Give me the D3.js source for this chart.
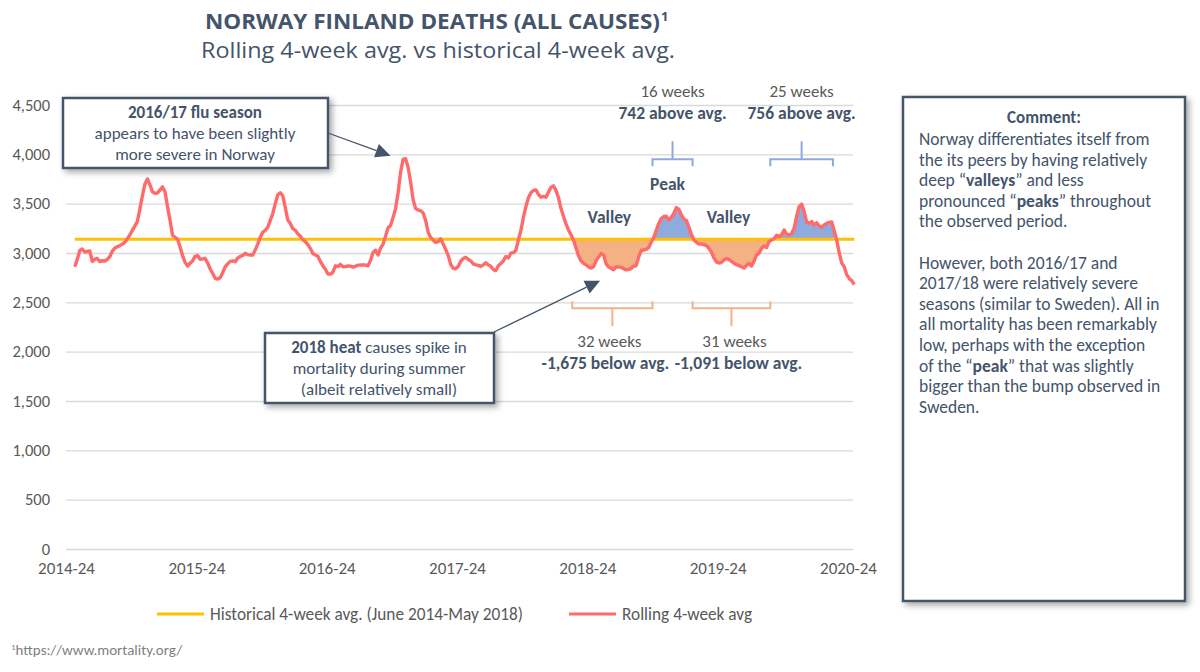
<!DOCTYPE html>
<html><head><meta charset="utf-8">
<script src="https://cdn.jsdelivr.net/npm/d3@7"></script>
<style>
body{margin:0;background:#fff;}
svg text{font-family:Carlito,Lato,"Open Sans",sans-serif;}
</style>
</head><body>
<svg id="chart" width="1200" height="672"></svg>
<script>
// ---------- DATA ----------
const yTickValues = [0, 500, 1000, 1500, 2000, 2500, 3000, 3500, 4000, 4500];
const xTickLabels = ["2014-24", "2015-24", "2016-24", "2017-24", "2018-24", "2019-24", "2020-24"];
const xTickWeeks = [0, 52, 104, 156, 208, 260, 312];
const totalWeeks = 314;      // weekly categories on the axis
const firstWeek = 3;         // first week with a rolling 4-week value
const rolling = [
 2861,2935,3025,3040,3010,3015,3020,2915,2935,2945,2912,2922,2919,2935,2965,3020,3050,3064,3075,3090,
 3110,3145,3185,3230,3275,3320,3450,3580,3700,3750,3690,3620,3605,3608,3640,3670,3621,3470,3334,3180,
 3159,3140,3064,2975,2905,2868,2896,2920,2965,2975,2935,2940,2946,2900,2840,2795,2743,2735,2750,2800,
 2860,2890,2915,2920,2912,2950,2965,2975,2997,2983,2980,2980,3030,3090,3160,3210,3230,3260,3330,3400,
 3500,3590,3611,3580,3460,3334,3300,3248,3230,3195,3170,3135,3115,3085,3045,2995,2980,2966,2915,2870,
 2835,2787,2787,2805,2870,2862,2885,2860,2862,2868,2867,2857,2865,2877,2878,2880,2878,2870,2925,3005,
 3028,2980,3050,3090,3170,3255,3278,3360,3450,3610,3820,3950,3955,3870,3720,3540,3450,3436,3428,3405,
 3330,3210,3157,3130,3108,3115,3145,3090,3035,2975,2885,2845,2840,2865,2915,2945,2958,2935,2920,2890,
 2880,2875,2864,2880,2900,2880,2865,2832,2822,2870,2894,2920,2965,2950,2998,3003,3028,3130,3230,3360,
 3470,3560,3610,3635,3640,3595,3566,3574,3566,3615,3665,3680,3635,3560,3450,3370,3295,3232,3185,3130,
 3050,2972,2920,2895,2880,2858,2847,2860,2920,2960,2995,2981,2890,2858,2846,2830,2860,2857,2855,2840,
 2829,2834,2842,2865,2873,2960,3025,3030,3038,3055,3110,3160,3230,3300,3350,3370,3372,3336,3360,3400,
 3460,3445,3385,3345,3330,3265,3190,3132,3110,3091,3091,3085,3075,3047,3010,2950,2910,2898,2905,2929,
 2942,2935,2915,2896,2882,2872,2862,2848,2875,2895,2868,2915,2980,2997,3047,3070,3055,3115,3132,3145,
 3180,3167,3185,3233,3192,3183,3195,3250,3370,3470,3495,3419,3315,3302,3318,3284,3307,3274,3260,3284,
 3300,3310,3315,3225,3130,3000,2900,2860,2780,2740,2720,2680
];
const historicalAvg = [3140];
const periodKinds  = ["valley", "peak", "valley", "peak"];
const periodLabels = ["Valley", "Peak", "Valley", ""];
const periodFrom   = [202, 234, 250, 281];
const periodTo     = [233, 249, 280, 305];
const periodWeeks  = ["32 weeks", "16 weeks", "31 weeks", "25 weeks"];
const periodAmount = ["-1,675 below avg.", "742 above avg.", "-1,091 below avg.", "756 above avg."];

// ---------- SETUP ----------
const svg = d3.select("#chart");
const slate = "#44546A", grey = "#595959";
const x = d3.scaleLinear().domain([0, totalWeeks]).range([66, 853]);
const y = d3.scaleLinear().domain([0, 4500]).range([549, 105]);
const xc = i => x(i + 0.5);
const avg = historicalAvg[0];
const series = rolling.map((v, k) => ({ i: k + firstWeek, v }));
const lastWeek = firstWeek + rolling.length - 1;

const defs = svg.append("defs");
const sh = defs.append("filter").attr("id", "shadow").attr("x", "-10%").attr("y", "-10%").attr("width", "130%").attr("height", "130%");
sh.append("feDropShadow").attr("dx", 3).attr("dy", 3).attr("stdDeviation", 3).attr("flood-color", "#000").attr("flood-opacity", 0.35);

// ---------- TITLE ----------
const t1 = svg.append("text").attr("x", 205).attr("y", 29)
  .attr("font-size", 21).attr("font-weight", "bold").attr("fill", slate)
  .style("font-family", "'Open Sans',Lato,sans-serif");
t1.append("tspan").attr("textLength", 455).attr("lengthAdjust", "spacingAndGlyphs")
  .text("NORWAY FINLAND DEATHS (ALL CAUSES)");
t1.append("tspan").attr("font-size", 13).attr("dx", 1).attr("dy", -8).text("1");
svg.append("text").attr("x", 201).attr("y", 58)
  .attr("font-size", 22.5).attr("fill", slate).attr("textLength", 474).attr("lengthAdjust", "spacingAndGlyphs")
  .style("font-family", "'Open Sans',Lato,sans-serif")
  .text("Rolling 4-week avg. vs historical 4-week avg.");

// ---------- GRID + AXES ----------
const yAxis = d3.axisLeft(y).tickValues(yTickValues).tickSize(-(x(totalWeeks) - x(0)))
  .tickFormat(d3.format(","));
const gy = svg.append("g").attr("transform", `translate(${x(0)},0)`).call(yAxis);
gy.select(".domain").remove();
gy.selectAll(".tick line").attr("stroke", "#D9D9D9").attr("stroke-width", 1.3);
gy.selectAll(".tick text").attr("x", -16).attr("fill", grey).attr("font-size", 16.5)
  .style("font-family", "Carlito,Lato,sans-serif");

const xAxis = d3.axisBottom(x).tickValues(xTickWeeks).tickSize(0)
  .tickFormat((d, k) => xTickLabels[k]);
const gx = svg.append("g").attr("transform", `translate(0,${y(0)})`).call(xAxis);
gx.select(".domain").remove();
gx.selectAll(".tick text").attr("dy", 22).attr("fill", grey).attr("font-size", 17)
  .style("font-family", "Carlito,Lato,sans-serif");

// ---------- SHADED PERIODS ----------
periodKinds.forEach((kind, k) => {
  const from = periodFrom[k], to = periodTo[k];
  const pts = series.filter(d => d.i >= from - 1 && d.i <= to + 1);
  const cid = "clip" + k;
  const r = defs.append("clipPath").attr("id", cid).append("rect")
    .attr("x", xc(from - 1)).attr("width", xc(to + 1) - xc(from - 1));
  if (kind === "valley") r.attr("y", y(avg)).attr("height", y(0) - y(avg));
  else r.attr("y", y(4500)).attr("height", y(avg) - y(4500));
  svg.append("path").datum(pts)
    .attr("clip-path", `url(#${cid})`)
    .attr("fill", kind === "valley" ? "#F4B183" : "#8FAADC")
    .attr("d", d3.area().x(d => xc(d.i)).y0(y(avg)).y1(d => y(d.v)));
});

// ---------- LINES ----------
svg.append("line").attr("x1", xc(firstWeek)).attr("x2", xc(lastWeek))
  .attr("y1", y(avg)).attr("y2", y(avg)).attr("stroke", "#FFC000").attr("stroke-width", 3);
svg.append("path").datum(series).attr("fill", "none").attr("stroke", "#FF6B6B")
  .attr("stroke-width", 3.4).attr("stroke-linejoin", "round")
  .attr("d", d3.line().x(d => xc(d.i)).y(d => y(d.v)));

// ---------- PERIOD LABELS + BRACKETS ----------
const amountDx = [-7, 0, 7, 0];
const weeksDx = [-3, 0, 3, 0];
periodKinds.forEach((kind, k) => {
  const from = periodFrom[k], to = periodTo[k];
  const x0 = x(from), x1 = x(to + 1), xm = (x0 + x1) / 2;
  const isPeak = kind === "peak";
  const col = isPeak ? "#8EA9DB" : "#F4B183";
  const by = isPeak ? y(3950) : y(2440);
  const s = isPeak ? 1 : -1;
  svg.append("path").attr("fill", "none").attr("stroke", col).attr("stroke-width", 2)
    .attr("d", `M${x0},${by + 7 * s}V${by}H${x1}V${by + 7 * s}M${xm},${by}V${by - 18 * s}`);
  const ty = isPeak ? 97 : 347;
  svg.append("text").attr("x", xm + weeksDx[k]).attr("y", ty).attr("text-anchor", "middle")
    .attr("font-size", 17).attr("fill", grey).text(periodWeeks[k]);
  svg.append("text").attr("x", xm + amountDx[k]).attr("y", ty + 22).attr("text-anchor", "middle")
    .attr("font-size", 17.5).attr("font-weight", "bold").attr("fill", slate).text(periodAmount[k]);
  if (periodLabels[k])
    svg.append("text").attr("x", xm - (isPeak ? 5 : 3)).attr("y", isPeak ? y(3640) : y(3300))
      .attr("text-anchor", "middle").attr("font-size", 17.5).attr("font-weight", "bold")
      .attr("fill", slate).text(periodLabels[k]);
});

// ---------- ANNOTATION BOXES ----------
function arrow(x1, y1, x2, y2) {
  const a = Math.atan2(y2 - y1, x2 - x1), L = 15, W = 7;
  const bx = x2 - L * Math.cos(a), by = y2 - L * Math.sin(a);
  svg.append("line").attr("x1", x1).attr("y1", y1).attr("x2", bx).attr("y2", by)
    .attr("stroke", slate).attr("stroke-width", 1.2);
  svg.append("path").attr("fill", slate).attr("d",
    `M${x2},${y2}L${bx + W * Math.sin(a)},${by - W * Math.cos(a)}L${bx - W * Math.sin(a)},${by + W * Math.cos(a)}Z`);
}
function box(x0, y0, w, h) {
  svg.append("rect").attr("x", x0).attr("y", y0).attr("width", w).attr("height", h)
    .attr("fill", "#fff").attr("stroke", slate).attr("stroke-width", 2.5).attr("filter", "url(#shadow)");
}
box(63, 98, 265, 70);
arrow(328, 133, xc(129), y(3985));
let tb = svg.append("text").attr("text-anchor", "middle").attr("font-size", 17).attr("fill", slate);
tb.append("tspan").attr("x", 195).attr("y", 118).attr("font-weight", "bold").text("2016/17 flu season");
tb.append("tspan").attr("x", 195).attr("y", 139).text("appears to have been slightly");
tb.append("tspan").attr("x", 195).attr("y", 160).text("more severe in Norway");

box(265, 333, 229, 70);
arrow(494, 332, xc(212.6), y(2720));
tb = svg.append("text").attr("text-anchor", "middle").attr("font-size", 17).attr("fill", slate);
let l1 = tb.append("tspan").attr("x", 379).attr("y", 353);
l1.append("tspan").attr("font-weight", "bold").text("2018 heat");
l1.append("tspan").text(" causes spike in");
tb.append("tspan").attr("x", 379).attr("y", 374).text("mortality during summer");
tb.append("tspan").attr("x", 379).attr("y", 395).text("(albeit relatively small)");

// ---------- COMMENT BOX ----------
box(903, 97, 282, 504);
svg.append("text").attr("x", 1044).attr("y", 123).attr("text-anchor", "middle")
  .attr("font-size", 17).attr("font-weight", "bold").attr("fill", slate).text("Comment:");
const commentLines = [
  [["Norway differentiates itself from", 0]],
  [["the its peers by having relatively", 0]],
  [["deep \u201c", 0], ["valleys", 1], ["\u201d and less", 0]],
  [["pronounced \u201c", 0], ["peaks", 1], ["\u201d throughout", 0]],
  [["the observed period.", 0]],
  [["", 0]],
  [["However, both 2016/17 and", 0]],
  [["2017/18 were relatively severe", 0]],
  [["seasons (similar to Sweden). All in", 0]],
  [["all mortality has been remarkably", 0]],
  [["low, perhaps with the exception", 0]],
  [["of the \u201c", 0], ["peak", 1], ["\u201d that was slightly", 0]],
  [["bigger than the bump observed in", 0]],
  [["Sweden.", 0]]
];
const ct = svg.append("text").attr("font-size", 17.5).attr("fill", slate);
commentLines.forEach((parts, k) => {
  const line = ct.append("tspan").attr("x", 919).attr("y", 145 + k * 20.6);
  parts.forEach(([s, b]) => line.append("tspan").attr("font-weight", b ? "bold" : null).text(s));
});

// ---------- LEGEND ----------
const legendItems = [["Historical 4-week avg. (June 2014-May 2018)", "#FFC000", 157], ["Rolling 4-week avg", "#FF6B6B", 569]];
legendItems.forEach(([label, color, lx]) => {
  svg.append("line").attr("x1", lx).attr("x2", lx + 47).attr("y1", 614).attr("y2", 614)
    .attr("stroke", color).attr("stroke-width", 3);
  svg.append("text").attr("x", lx + 53).attr("y", 620).attr("font-size", 17.3).attr("fill", grey).text(label);
});

// ---------- FOOTNOTE ----------
const fn = svg.append("text").attr("x", 11).attr("y", 655).attr("font-size", 15).attr("fill", "#7F7F7F");
fn.append("tspan").attr("font-size", 9).attr("dy", -5).text("1");
fn.append("tspan").attr("dy", 5).text("https://www.mortality.org/");
</script>
</body></html>
